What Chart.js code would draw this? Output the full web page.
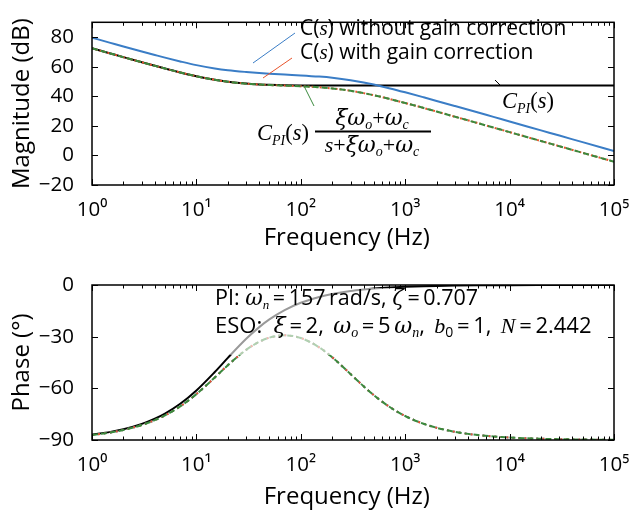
<!DOCTYPE html>
<html><head><meta charset="utf-8">
<script src="https://cdn.jsdelivr.net/npm/chart.js@4"></script>
<style>
html,body{margin:0;padding:0;background:#fff;width:629px;height:512px;overflow:hidden}
canvas{position:absolute;left:0}
#c1{top:0}
#c2{top:258px}
</style></head><body>
<canvas id="c1" width="629" height="258"></canvas>
<canvas id="c2" width="629" height="254"></canvas>
<script>
// ---- data ----
const freq = [1,1.5,2,3,4,5,7,10,15,20,30,40,50,70,100,150,200,300,400,500,700,1000,1500,2000,3000,5000,7000,10000,20000,30000,50000,100000];
// C_PI(s) magnitude (dB)
const magPI = [72.41,68.91,66.43,62.98,60.57,58.74,56.10,53.55,51.13,49.82,48.56,48.02,47.74,47.48,47.34,47.26,47.24,47.22,47.21,47.21,47.20,47.20,47.20,47.20,47.20,47.20,47.20,47.20,47.20,47.20,47.20,47.20];
// C(s) with gain correction  (= C_PI(s)(xi wo + wc)/(s + xi wo + wc))
const magGC = [72.41,68.91,66.43,62.98,60.57,58.74,56.10,53.54,51.12,49.80,48.51,47.92,47.59,47.19,46.77,46.07,45.31,43.68,42.11,40.69,38.26,35.45,32.09,29.65,26.17,21.76,18.84,15.75,9.73,6.21,1.77,-4.25];
// C(s) without gain correction
const magNoGC = [79.61,76.11,73.63,70.25,67.90,66.10,63.55,61.05,58.80,57.60,56.40,55.70,55.25,54.65,54.10,53.30,52.51,50.88,49.31,47.89,45.46,42.65,39.29,36.85,33.37,28.96,26.04,22.95,16.93,13.41,8.97,2.95];
// phase (deg)
const phasePI = [-86.86,-85.29,-83.73,-80.64,-77.60,-74.64,-68.96,-61.22,-50.50,-42.31,-31.24,-24.47,-20.00,-14.57,-10.31,-6.92,-5.20,-3.47,-2.61,-2.08,-1.49,-1.04,-0.70,-0.52,-0.35,-0.21,-0.15,-0.10,-0.05,-0.03,-0.02,-0.01];
const phaseGC = [-87.07,-85.61,-84.16,-81.28,-78.46,-75.71,-70.46,-63.36,-53.71,-46.58,-37.64,-32.97,-30.58,-29.23,-30.80,-36.19,-41.98,-51.74,-58.82,-63.93,-70.57,-76.06,-80.58,-82.90,-85.25,-87.15,-87.96,-88.57,-89.28,-89.52,-89.71,-89.86];
// ticks
const xTicks = [1,10,100,1000,10000,100000];
const xTickLabels = ['10\u2070','10\u00B9','10\u00B2','10\u00B3','10\u2074','10\u2075'];
const magTicks = [-20,0,20,40,60,80];
const phaseTicks = [-90,-60,-30,0];

const SANS = "'Open Sans', Lato, 'DejaVu Sans', sans-serif";
const SERIF = "'Liberation Serif', 'DejaVu Serif', serif";
const GREEK = "'DejaVu Serif', 'Liberation Serif', serif";
const BLUE = '#3a7dc6', RED = '#e8542c', GREEN = '#3b8a3e', BLACK = '#000';

function segFont(k, size){
  if (k==='r') return [`${size}px ${SANS}`,0];
  if (k==='u') return [`${size}px ${SERIF}`,0];
  if (k==='i') return [`italic ${size}px ${SERIF}`,0];
  if (k==='g') return [`italic ${size}px ${GREEK}`,0];
  if (k==='sub') return [`italic ${Math.round(size*0.62)}px ${SERIF}`,size*0.2];
  if (k==='subr') return [`${Math.round(size*0.62)}px ${SANS}`,size*0.2];
}
function richWidth(ctx, segs, size){
  let w=0; for (const [t,k] of segs){ ctx.font=segFont(k,size)[0]; w+=ctx.measureText(t).width; } return w;
}
function rich(ctx, x, y, segs, size, color){
  ctx.fillStyle = color||'#000'; ctx.textBaseline='alphabetic'; ctx.textAlign='left';
  let cx=x;
  for (const [t,k] of segs){ const [f,dy]=segFont(k,size); ctx.font=f; ctx.fillText(t,cx,y+dy); cx+=ctx.measureText(t).width; }
}
function seg(ctx,x1,y1,x2,y2,c,w){ ctx.beginPath(); ctx.moveTo(x1,y1); ctx.lineTo(x2,y2); ctx.strokeStyle=c; ctx.lineWidth=w||1; ctx.stroke(); }

const frame = {
  id:'frame',
  afterDraw(chart){
    const {ctx, chartArea:a, scales:{x,y}} = chart;
    ctx.save();
    for (let e=0;e<=5;e++) for (let k=1;k<=9;k++){
      if (e===5 && k>1) break;
      const px = Math.round(x.getPixelForValue(k*Math.pow(10,e)))+0.5;
      const L = k===1?6:3.5;
      seg(ctx,px,a.top,px,a.top+L,'#000',1); seg(ctx,px,a.bottom,px,a.bottom-L,'#000',1);
    }
    for (const t of y.ticks){
      const py = Math.round(y.getPixelForValue(t.value))+0.5;
      seg(ctx,a.left,py,a.left+6,py,'#000',1); seg(ctx,a.right,py,a.right-6,py,'#000',1);
    }
    ctx.lineWidth=1.5; ctx.strokeStyle='#000';
    ctx.strokeRect(a.left,a.top,a.right-a.left,a.bottom-a.top);
    ctx.restore();
  }
};

function xScale(h, padB){
  return {
    type:'logarithmic', min:1, max:100000,
    afterBuildTicks: s => { s.ticks = xTicks.map(v=>({value:v})); },
    afterFit: s => { s.height = h; s.paddingLeft=0; s.paddingRight=0; },
    grid:{display:false}, border:{display:false},
    ticks:{ autoSkip:false, maxRotation:0, padding:5, color:'#000', font:{family:SANS,size:20.5},
      callback:(v)=>{ const i=xTicks.indexOf(v); return i>=0?xTickLabels[i]:''; } },
    title:{display:true, text:'Frequency (Hz)  ', color:'#000', font:{family:SANS,size:24}, padding:{top:0,bottom:padB}}
  };
}
function yScale(min,max,ticks,title){
  return {
    min, max,
    afterBuildTicks: s => { s.ticks = ticks.map(v=>({value:v})); },
    afterFit: s => { s.width = 92; },
    grid:{display:false}, border:{display:false},
    ticks:{ padding:10, color:'#000', font:{family:SANS,size:20.5},
      callback:(v)=> v<0 ? '\u2212'+Math.abs(v) : String(v) },
    title:{display:true, text:title, color:'#000', font:{family:SANS,size:24}, padding:{top:8,bottom:0}}
  };
}
function ds(label, data, color, dash, order, width){
  return { label, data: freq.map((f,i)=>({x:f,y:data[i]})), borderColor:color, borderWidth:width||2,
    borderDash:dash||[], pointRadius:0, cubicInterpolationMode:'monotone', fill:false, order };
}

const magNotes = {
  id:'magNotes',
  afterDatasetsDraw(chart){
    const ctx = chart.ctx; ctx.save();
    seg(ctx,253,63,295,33,BLUE,1);
    seg(ctx,263,78,292,58,RED,1);
    seg(ctx,304,86,314,106,GREEN,1);
    seg(ctx,495,80,501,86,BLACK,1);
    rich(ctx,300,35,[['C(','r'],['s','i'],[') without gain correction','r']],21);
    rich(ctx,300,59,[['C(','r'],['s','i'],[') with gain correction','r']],21);
    rich(ctx,502,108,[['C','i'],['PI','sub'],['(','u'],['s','i'],[')','u']],22.5);
    rich(ctx,257,140,[['C','i'],['PI','sub'],['(','u'],['s','i'],[')','u']],22.5);
    const num = [['\u03BE\u03C9','g'],['o','sub'],['+','u'],['\u03C9','g'],['c','sub']];
    const den = [['s','i'],['+','u'],['\u03BE\u03C9','g'],['o','sub'],['+','u'],['\u03C9','g'],['c','sub']];
    const cx = 372;
    rich(ctx,cx-richWidth(ctx,num,22)/2,125,num,22);
    rich(ctx,cx-richWidth(ctx,den,22)/2,152,den,22);
    seg(ctx,315,131.5,431,131.5,'#000',2);
    ctx.restore();
  }
};
const phaseNotes = {
  id:'phaseNotes',
  afterDatasetsDraw(chart){
    const ctx = chart.ctx; ctx.save();
    ctx.fillStyle='rgba(255,255,255,0.6)';
    ctx.beginPath(); ctx.roundRect(228,30,372,67,4); ctx.fill();
    const EQ = '\u2009=\u2009';
    rich(ctx,215,47,[['PI: ','r'],['\u03C9','g'],['n','sub'],[EQ+'157\u2009rad/s, ','r'],['\u03B6','g'],[EQ+'0.707','r']],21.5);
    rich(ctx,215,75,[['ESO:  ','r'],['\u03BE','g'],[EQ+'2,\u2009 ','r'],['\u03C9','g'],['o','sub'],[EQ+'5\u2009','r'],['\u03C9','g'],['n','sub'],[',\u2009 ','r'],['b','i'],['0','subr'],[EQ+'1,\u2009 ','r'],['N','i'],[EQ+'2.442','r']],22);
    ctx.restore();
  }
};

new Chart(document.getElementById('c1'), {
  type:'line',
  data:{ datasets:[
    ds('C(s) with gain correction (GC)', magGC, GREEN, [6,3], 0),
    ds('C(s) with gain correction', magGC, RED, [2,2], 1),
    ds('C(s) without gain correction', magNoGC, BLUE, [], 2),
    ds('C_PI(s)', magPI, BLACK, [], 3)
  ]},
  options:{ responsive:false, devicePixelRatio:1, animation:false,
    layout:{padding:{top:10,right:15,left:0,bottom:0}},
    plugins:{legend:{display:false}, tooltip:{enabled:false}},
    scales:{ x:xScale(73,5), y:yScale(-20,90,magTicks,'Magnitude (dB)') } },
  plugins:[frame, magNotes]
});
new Chart(document.getElementById('c2'), {
  type:'line',
  data:{ datasets:[
    ds('GC', phaseGC, GREEN, [6,3], 0),
    ds('with gain correction', phaseGC, RED, [2,4], 1),
    ds('without gain correction', phaseGC, BLUE, [2,4], 2),
    ds('C_PI(s)', phasePI, BLACK, [], 3)
  ]},
  options:{ responsive:false, devicePixelRatio:1, animation:false,
    layout:{padding:{top:27,right:15,left:0,bottom:0}},
    plugins:{legend:{display:false}, tooltip:{enabled:false}},
    scales:{ x:xScale(72,0), y:yScale(-90,0,phaseTicks,'Phase (\u00B0)') } },
  plugins:[frame, phaseNotes]
});
</script>
</body></html>
